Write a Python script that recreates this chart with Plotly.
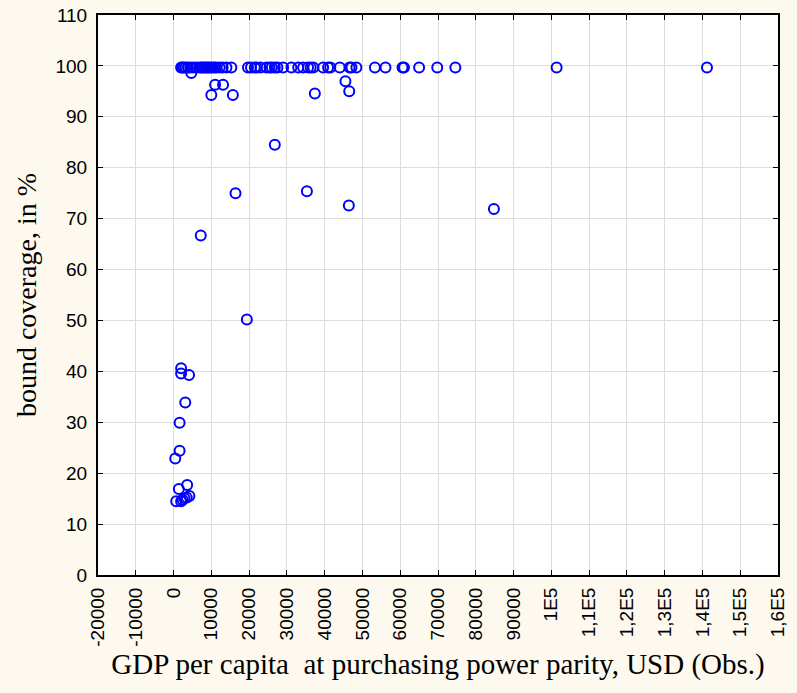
import plotly.graph_objects as go

gdp_top = [2000, 2300, 2700, 3200, 3800, 4400, 5200, 6000, 6900, 7400, 7900, 8300, 8800,
           9200, 9700, 10200, 10800, 11300, 12200, 13000, 14000, 15300, 19700, 20500, 21500,
           22000, 23000, 24600, 25400, 26000, 26800, 27500, 29000, 31200, 33000, 34300,
           35600, 36300, 37000, 39600, 40900, 41500, 44000, 46600, 47100, 48400, 53300,
           56100, 60600, 61000, 65000, 69800, 74600, 101400, 141200]
cov_top = [99.7] * len(gdp_top)

gdp_other = [4700, 11000, 13100, 10000, 15700, 37400, 45500, 46500,
             26800, 16400, 35300, 46400, 7200, 19400, 84800,
             2000, 2000, 4100, 3100, 1600, 1600, 450, 3600, 1400, 700, 2000, 2900, 4200, 3500, 2400]
cov_other = [98.6, 96.3, 96.3, 94.3, 94.3, 94.6, 97.0, 95.0,
             84.5, 75.0, 75.4, 72.6, 66.7, 50.2, 71.9,
             40.6, 39.6, 39.3, 33.9, 29.9, 24.4, 22.9, 17.7, 16.9, 14.5, 14.5, 15.1, 15.5, 15.2, 14.8]

gdp = gdp_top + gdp_other
coverage = cov_top + cov_other

x_tickvals = list(range(-20000, 160001, 10000))
x_ticktext = ["-20000", "-10000", "0", "10000", "20000", "30000", "40000", "50000", "60000",
              "70000", "80000", "90000", "1E5", "1,1E5", "1,2E5", "1,3E5", "1,4E5", "1,5E5", "1,6E5"]
y_tickvals = list(range(0, 111, 10))

fig = go.Figure()
fig.add_trace(go.Scatter(
    x=gdp, y=coverage, mode="markers",
    marker=dict(symbol="circle-open", size=10, color="#0000FF", line=dict(width=2, color="#0000FF")),
    showlegend=False,
))

fig.update_layout(
    width=797, height=693,
    paper_bgcolor="#FEF9EE", plot_bgcolor="#FFFFFF",
    margin=dict(l=98, r=19, t=15, b=118, autoexpand=False),
    font=dict(family="Liberation Sans, Arial", size=19, color="#000000"),
)
fig.update_xaxes(
    range=[-20000, 160000], tickmode="array", tickvals=x_tickvals, ticktext=x_ticktext,
    tickangle=-90, showgrid=True, gridcolor="#DDDDDD", gridwidth=1,
    showline=True, linecolor="#000000", linewidth=2, mirror="ticks",
    ticks="inside", ticklen=5, tickcolor="#000000", zeroline=False,
    ticklabelstandoff=3,
    tickfont=dict(family="Liberation Sans Narrow, Liberation Sans, Arial", size=19),
    title=dict(text="GDP per capita  at purchasing power parity, USD (Obs.)",
               font=dict(family="Liberation Serif, Times New Roman", size=29), standoff=8),
)
fig.update_yaxes(
    range=[0, 110], tickmode="array", tickvals=y_tickvals,
    showgrid=True, gridcolor="#DDDDDD", gridwidth=1,
    showline=True, linecolor="#000000", linewidth=2, mirror="ticks",
    ticks="inside", ticklen=5, tickcolor="#000000", zeroline=False,
    ticklabelstandoff=5,
    title=dict(text="bound coverage, in %",
               font=dict(family="Liberation Serif, Times New Roman", size=28), standoff=11),
)

fig.write_html("out.html", config={"displayModeBar": False},
               post_script="document.body.style.margin='0px';document.body.style.padding='0px';")
